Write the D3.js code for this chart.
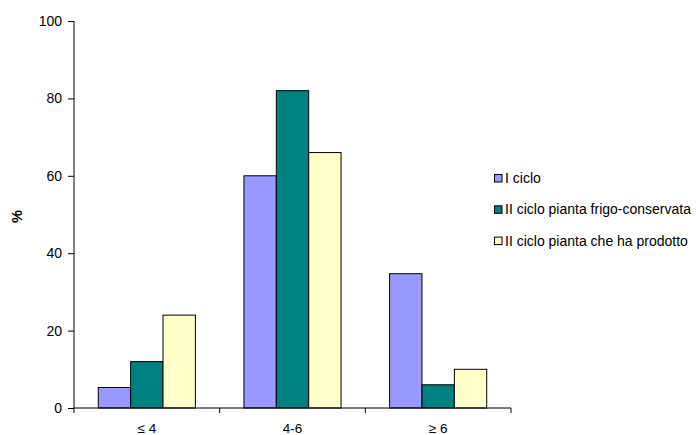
<!DOCTYPE html>
<html>
<head>
<meta charset="utf-8">
<script src="https://cdn.jsdelivr.net/npm/d3@7"></script>
<style>
  body { margin: 0; background: #fff; }
  svg { display: block; font-family: "Liberation Sans", Arial, sans-serif; }
</style>
</head>
<body>
<svg id="chart" width="696" height="435"></svg>
<script>
// Classes of size and the three series (percent of plants)
const categories = ["≤ 4", "4-6", "≥ 6"];
const seriesNames = ["I ciclo", "II ciclo pianta frigo-conservata", "II ciclo pianta che ha prodotto"];
const iCiclo = [5.3, 60, 34.7];
const iiFrigo = [12, 82, 6];
const iiProdotto = [24, 66, 10];
const yTicks = [0, 20, 40, 60, 80, 100];
const colors = ["#9999FF", "#008080", "#FFFFCC"];

const seriesValues = [iCiclo, iiFrigo, iiProdotto];

const svg = d3.select("#chart");
const margin = { left: 74, right: 185, top: 21, bottom: 27 };
const W = 696, H = 435;
const plotW = W - margin.left - margin.right;
const plotH = H - margin.top - margin.bottom;

const g = svg.append("g").attr("transform", `translate(${margin.left},${margin.top})`);

const x0 = d3.scaleBand().domain(categories).range([0, plotW]).paddingInner(0).paddingOuter(0);
const x1 = d3.scaleBand().domain(d3.range(seriesNames.length))
  .range([x0.bandwidth() / 6, x0.bandwidth() * 5 / 6]).padding(0);
const y = d3.scaleLinear().domain([0, 100]).range([plotH, 0]);

// Bars
categories.forEach((c, ci) => {
  seriesValues.forEach((vals, si) => {
    g.append("rect")
      .attr("x", x0(c) + x1(si))
      .attr("y", y(vals[ci]))
      .attr("width", x1.bandwidth())
      .attr("height", plotH - y(vals[ci]))
      .attr("fill", colors[si])
      .attr("stroke", "#000")
      .attr("stroke-width", 1);
  });
});

// Y axis
const yAxis = g.append("g")
  .call(d3.axisLeft(y).tickValues(yTicks).tickSize(6).tickPadding(6).tickFormat(d3.format("d")));
yAxis.select(".domain").attr("stroke", "#000").attr("d", `M0,0V${plotH}`);
yAxis.selectAll(".tick line").attr("stroke", "#000");
yAxis.selectAll("text").attr("font-size", 14).attr("fill", "#000").attr("font-family", "Liberation Sans, Arial, sans-serif");

// X axis: boundary ticks between categories
const xg = g.append("g").attr("transform", `translate(0,${plotH})`);
xg.append("line").attr("x1", 0).attr("x2", plotW).attr("stroke", "#000");
const bounds = categories.map(c => x0(c)).concat([plotW]);
xg.selectAll("line.tk").data(bounds).enter().append("line")
  .attr("class", "tk")
  .attr("x1", d => d).attr("x2", d => d)
  .attr("y1", 0).attr("y2", 5).attr("stroke", "#000");
xg.selectAll("text").data(categories).enter().append("text")
  .attr("x", d => x0(d) + x0.bandwidth() / 2)
  .attr("y", 25)
  .attr("text-anchor", "middle")
  .attr("font-size", 13.5)
  .text(d => d);

// Y axis title
svg.append("text")
  .attr("transform", `translate(22,216.5) rotate(-90)`)
  .attr("text-anchor", "middle")
  .attr("font-size", 14.5)
  .attr("font-weight", "bold")
  .text("%");

// Legend
const legend = svg.append("g").attr("transform", "translate(494,178)");
seriesNames.forEach((name, i) => {
  const row = legend.append("g").attr("transform", `translate(0,${i * 31.3})`);
  row.append("rect")
    .attr("x", 0.5).attr("y", -3.5)
    .attr("width", 7.5).attr("height", 7.5)
    .attr("fill", colors[i]).attr("stroke", "#000");
  row.append("text")
    .attr("x", 11).attr("y", 5)
    .attr("font-size", 14)
    .text(name);
});
</script>
</body>
</html>
